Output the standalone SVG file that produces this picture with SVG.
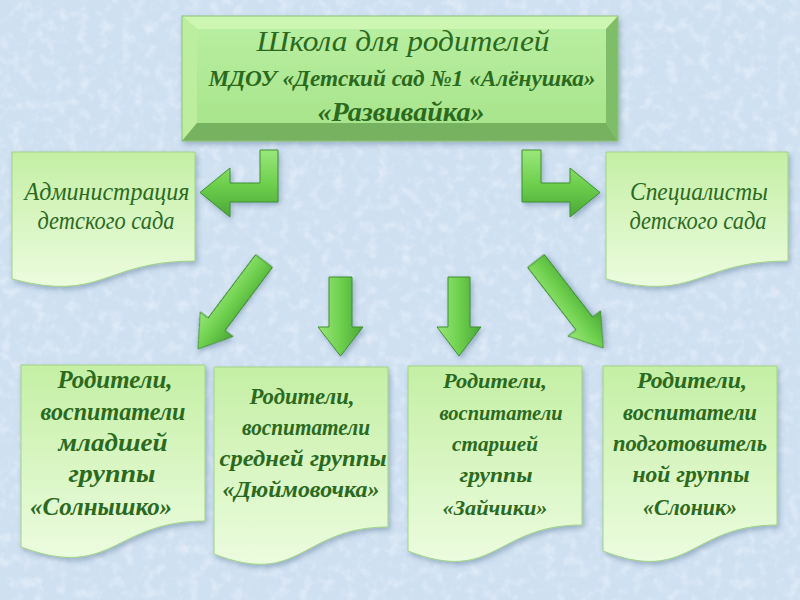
<svg xmlns="http://www.w3.org/2000/svg" width="800" height="600" viewBox="0 0 800 600">
<defs>
  <filter id="tex" x="0" y="0" width="100%" height="100%">
    <feTurbulence type="fractalNoise" baseFrequency="0.09" numOctaves="3" seed="4" result="n"/>
    <feColorMatrix in="n" type="matrix" values="0 0 0 0 1  0 0 0 0 1  0 0 0 0 1  0 0 0 1.6 -0.75"/>
  </filter>
  <filter id="sh" x="-10%" y="-10%" width="125%" height="130%">
    <feDropShadow dx="2" dy="3" stdDeviation="2.5" flood-color="#345a78" flood-opacity="0.35"/>
  </filter>
  <linearGradient id="docg" x1="0" y1="0" x2="0" y2="1">
    <stop offset="0" stop-color="#c4efa4"/>
    <stop offset="1" stop-color="#ecfcdf"/>
  </linearGradient>
  <linearGradient id="faceg" x1="0" y1="0" x2="0" y2="1">
    <stop offset="0" stop-color="#b8eea0"/>
    <stop offset="1" stop-color="#a9e58c"/>
  </linearGradient>
  <linearGradient id="arrg" x1="0" y1="0" x2="1" y2="0">
    <stop offset="0" stop-color="#9ae77a"/>
    <stop offset="0.5" stop-color="#6fd04e"/>
    <stop offset="1" stop-color="#4aa836"/>
  </linearGradient>
  <linearGradient id="arrv" x1="0" y1="0" x2="0" y2="1">
    <stop offset="0" stop-color="#9ae77a"/>
    <stop offset="0.5" stop-color="#6fd04e"/>
    <stop offset="1" stop-color="#4aa836"/>
  </linearGradient>
  <style>
    .doc { fill: url(#docg); stroke: #9fd486; stroke-width: 1; filter: url(#sh); }
    .arr { fill: url(#arrg); stroke: #3f8f2d; stroke-width: 1; stroke-linejoin: miter; filter: url(#sh); }
    .arrh { fill: url(#arrv); stroke: #3f8f2d; stroke-width: 1; filter: url(#sh); }
    .t { font-family: "Liberation Serif", serif; font-style: italic; fill: #2b6a1e; text-anchor: middle; }
    .d { font-size: 26px; }
    .b { font-weight: bold; }
  </style>
</defs>

<rect x="0" y="0" width="800" height="600" fill="#cfe0f1"/>
<rect x="0" y="0" width="800" height="600" filter="url(#tex)" opacity="0.55"/>

<g id="school">
  <g filter="url(#sh)">
    <rect x="182" y="16" width="436" height="125" fill="#a6e08a"/>
    <polygon points="182,16 618,16 606,29 197,29" fill="#cdf6b2"/>
    <polygon points="182,16 197,29 197,123 182,141" fill="#bdee9f"/>
    <polygon points="618,16 618,141 606,123 606,29" fill="#7fbd68"/>
    <polygon points="182,141 618,141 606,123 197,123" fill="#76b25f"/>
    <rect x="197" y="29" width="409" height="94" fill="url(#faceg)"/>
    <rect x="182" y="16" width="436" height="125" fill="none" stroke="#8cc474" stroke-width="1"/>
  </g>
  <text class="t" x="403" y="51" font-size="29" textLength="293" lengthAdjust="spacingAndGlyphs">Школа  для  родителей</text>
  <text class="t b" x="402" y="86" font-size="23" textLength="387" lengthAdjust="spacingAndGlyphs">МДОУ «Детский сад №1 «Алёнушка»</text>
  <text class="t b" x="401" y="121" font-size="27" textLength="167" lengthAdjust="spacingAndGlyphs">«Развивайка»</text>
</g>

<g id="admin">
  <path class="doc" d="M12,152 H195 V261 C103,261 103,303 12,279 Z"/>
  <text class="t d" x="107" y="200" textLength="165" lengthAdjust="spacingAndGlyphs">Администрация</text>
  <text class="t d" x="106" y="229" textLength="137" lengthAdjust="spacingAndGlyphs">детского сада</text>
</g>

<g id="specialists">
  <path class="doc" d="M606,152 H788 V261 C697,261 697,303 606,279 Z"/>
  <text class="t d" x="699" y="200" textLength="138" lengthAdjust="spacingAndGlyphs">Специалисты</text>
  <text class="t d" x="698" y="229" textLength="137" lengthAdjust="spacingAndGlyphs">детского сада</text>
</g>

<g id="group1">
  <path class="doc" d="M21,365 H205 V521 C113,521 113,581 21,547 Z"/>
  <text class="t b" font-size="25" x="115" y="388" textLength="115" lengthAdjust="spacingAndGlyphs">Родители,</text>
  <text class="t b" font-size="25" x="113" y="420" textLength="145" lengthAdjust="spacingAndGlyphs">воспитатели</text>
  <text class="t b" font-size="25" x="113" y="451" textLength="109" lengthAdjust="spacingAndGlyphs">младшей</text>
  <text class="t b" font-size="25" x="112" y="482" textLength="87" lengthAdjust="spacingAndGlyphs">группы</text>
  <text class="t b" font-size="25" x="101" y="515" textLength="142" lengthAdjust="spacingAndGlyphs">«Солнышко»</text>
</g>

<g id="group2">
  <path class="doc" d="M214,367 H388 V527 C301,527 301,588 214,554 Z"/>
  <text class="t b" font-size="23" x="302" y="404" textLength="105" lengthAdjust="spacingAndGlyphs">Родители,</text>
  <text class="t b" font-size="23" x="306" y="435" textLength="128" lengthAdjust="spacingAndGlyphs">воспитатели</text>
  <text class="t b" font-size="23" x="303" y="466" textLength="167" lengthAdjust="spacingAndGlyphs">средней группы</text>
  <text class="t b" font-size="23" x="301" y="497" textLength="157" lengthAdjust="spacingAndGlyphs">«Дюймовочка»</text>
</g>

<g id="group3">
  <path class="doc" d="M408,366 H582 V525 C495,525 495,585 408,551 Z"/>
  <text class="t b" font-size="22" x="495" y="388" textLength="104" lengthAdjust="spacingAndGlyphs">Родители,</text>
  <text class="t b" font-size="22" x="501" y="420" textLength="123" lengthAdjust="spacingAndGlyphs">воспитатели</text>
  <text class="t b" font-size="22" x="495" y="451" textLength="86" lengthAdjust="spacingAndGlyphs">старшей</text>
  <text class="t b" font-size="22" x="496" y="482" textLength="73" lengthAdjust="spacingAndGlyphs">группы</text>
  <text class="t b" font-size="22" x="495" y="515" textLength="105" lengthAdjust="spacingAndGlyphs">«Зайчики»</text>
</g>

<g id="group4">
  <path class="doc" d="M603,366 H777 V525 C690,525 690,585 603,551 Z"/>
  <text class="t b" font-size="23" x="692" y="388" textLength="110" lengthAdjust="spacingAndGlyphs">Родители,</text>
  <text class="t b" font-size="23" x="690" y="420" textLength="134" lengthAdjust="spacingAndGlyphs">воспитатели</text>
  <text class="t b" font-size="23" x="690" y="451" textLength="154" lengthAdjust="spacingAndGlyphs">подготовитель</text>
  <text class="t b" font-size="23" x="691" y="482" textLength="117" lengthAdjust="spacingAndGlyphs">ной группы</text>
  <text class="t b" font-size="23" x="690" y="515" textLength="94" lengthAdjust="spacingAndGlyphs">«Слоник»</text>
</g>

<g id="connectors">
  <polygon class="arrh" points="260,150 278,150 278,202 230,202 230,217 200,192.5 230,168 230,183 260,183"/>
  <polygon class="arrh" points="522,150 541,150 541,183 570,183 570,168 600,192.5 570,217 570,202 522,202"/>
  <polygon class="arr" transform="translate(264,261) rotate(36.87)" points="-10.5,0 10.5,0 10.5,79 20.5,79 0,110 -20.5,79 -10.5,79"/>
  <polygon class="arr" points="329,277 352,277 352,327 363,327 340.5,356 318,327 329,327"/>
  <polygon class="arr" points="448,277 470,277 470,327 481,327 459,356 437,327 448,327"/>
  <polygon class="arr" transform="translate(536,261) rotate(-37.7)" points="-10.5,0 10.5,0 10.5,79 20.5,79 0,110 -20.5,79 -10.5,79"/>
</g>
</svg>
